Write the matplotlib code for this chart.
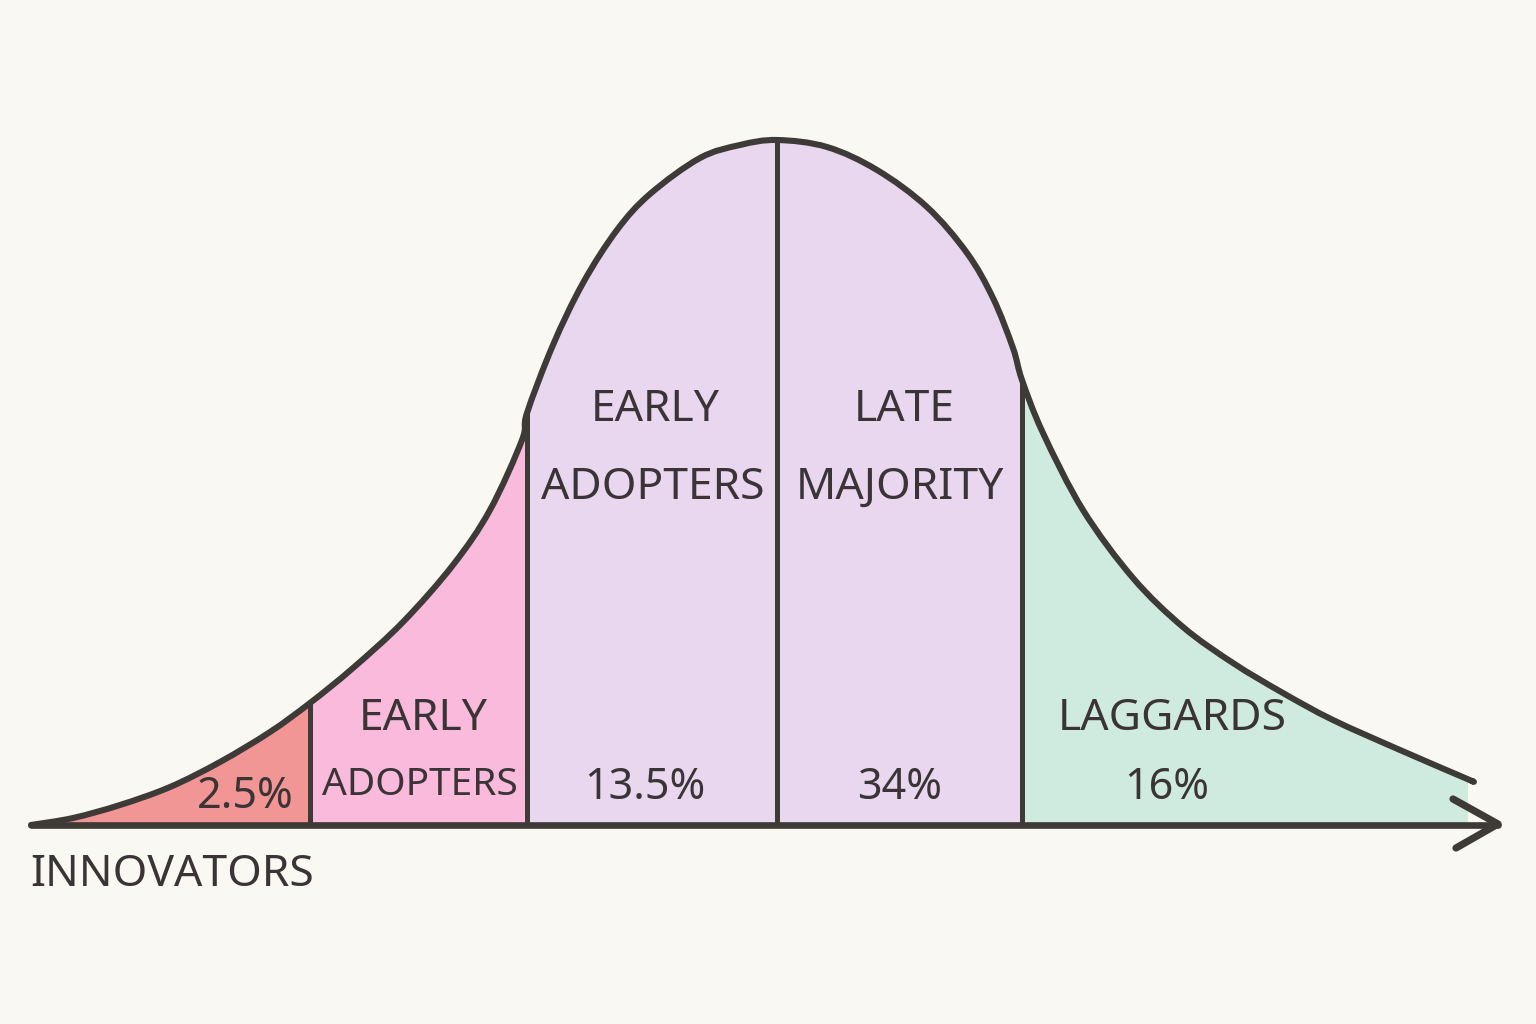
import numpy as np
import matplotlib
matplotlib.use("Agg")
import matplotlib.pyplot as plt
from matplotlib.path import Path
from matplotlib.patches import PathPatch, Rectangle

# ---- data (x = adoption time, y = height above baseline) ----
curve_x = [31, 73, 120, 170, 220, 270, 310, 353, 403, 453, 490, 522,
           527, 553, 583, 617, 650, 700, 740, 777,
           827, 877, 927, 967, 993, 1013, 1022,
           1043, 1083, 1133, 1183, 1233, 1283, 1333, 1400, 1465, 1472]
curve_y = [0, 7, 20, 38, 63, 93, 122, 157, 203, 260, 315, 385,
           412, 480, 542, 595, 631, 667, 680, 685,
           678, 655, 618, 572, 527, 477, 445,
           392, 315, 247, 198, 162, 132, 105, 75, 47, 44]

segments = ["Innovators", "Early Adopters", "Early Majority", "Late Majority", "Laggards"]
boundaries = [31, 310, 527, 777, 1022, 1468]
seg_colors = ["#F29595", "#F9BADC", "#E9D6EF", "#E9D6EF", "#CFEBDF"]

# label text (as printed in the reference)
labels = ["2.5%", "EARLY", "ADOPTERS", "EARLY", "ADOPTERS", "13.5%",
          "LATE", "MAJORITY", "34%", "LAGGARDS", "16%", "INNOVATORS"]

BG = "#FAF8F2"
INK = "#3D3A38"

fig = plt.figure(figsize=(15.36, 10.24), dpi=100, facecolor=BG)
ax = fig.add_axes([0, 0, 1, 1])
ax.set_facecolor(BG)
ax.set_xlim(0, 1536)
ax.set_ylim(-199, 825)
ax.axis("off")

P = np.column_stack([curve_x, curve_y]).astype(float)


def smooth_path_verts(pts):
    """Cubic Bezier (Catmull-Rom style) through the read points."""
    n = len(pts)
    verts = [pts[0]]
    codes = [Path.MOVETO]
    for i in range(n - 1):
        p0 = pts[max(i - 1, 0)]
        p1 = pts[i]
        p2 = pts[i + 1]
        p3 = pts[min(i + 2, n - 1)]
        c1 = p1 + (p2 - p0) / 6.0
        c2 = p2 - (p3 - p1) / 6.0
        verts += [c1, c2, p2]
        codes += [Path.CURVE4] * 3
    return verts, codes


cverts, ccodes = smooth_path_verts(P)

# area under the curve, clipped per segment
area_verts = cverts + [np.array([P[-1, 0], 0.0]), np.array([P[0, 0], 0.0]), P[0]]
area_codes = ccodes + [Path.LINETO, Path.LINETO, Path.CLOSEPOLY]
area_path = Path(area_verts, area_codes)
for i in range(len(segments)):
    lo, hi = boundaries[i], boundaries[i + 1]
    patch = PathPatch(area_path, facecolor=seg_colors[i], edgecolor="none", zorder=1)
    ax.add_patch(patch)
    clip = Rectangle((lo, -5), hi - lo, 800, transform=ax.transData)
    patch.set_clip_path(clip)

# dividers
for b in boundaries[1:-1]:
    top = curve_y[curve_x.index(b)]
    ax.plot([b, b], [0, top], color=INK, lw=3.6, solid_capstyle="butt", zorder=3)

# curve
ax.add_patch(PathPatch(Path(cverts, ccodes), facecolor="none", edgecolor=INK, lw=4.4,
                       capstyle="round", joinstyle="round", zorder=4))

# baseline axis with arrow
ax.plot([31, 1498], [0, 0], color=INK, lw=4.8, solid_capstyle="round", zorder=5)
ax.plot([1453, 1498, 1456], [26, 1, -23], color=INK, lw=5.2,
        solid_capstyle="round", solid_joinstyle="round", zorder=5)

font = dict(family=["Noto Sans", "DejaVu Sans"], color="#3A3436", fontweight="medium")


def lab(x, y, s, size=32, ha="center"):
    ax.text(x, 825 - y, s, ha=ha, va="center", fontsize=size, zorder=6, **font)


lab(245, 797, labels[0], 31)
lab(423, 719, labels[1], 32)
lab(420, 785, labels[2], 28)
lab(655, 410, labels[3], 32)
lab(653, 488, labels[4], 32)
lab(645, 788, labels[5], 31)
lab(904, 410, labels[6], 32)
lab(900, 488, labels[7], 32)
lab(900, 788, labels[8], 31)
lab(1172, 719, labels[9], 32)
lab(1167, 788, labels[10], 31)
lab(30, 875, labels[11], 32, ha="left")

fig.savefig("out.png", dpi=100, facecolor=BG)
